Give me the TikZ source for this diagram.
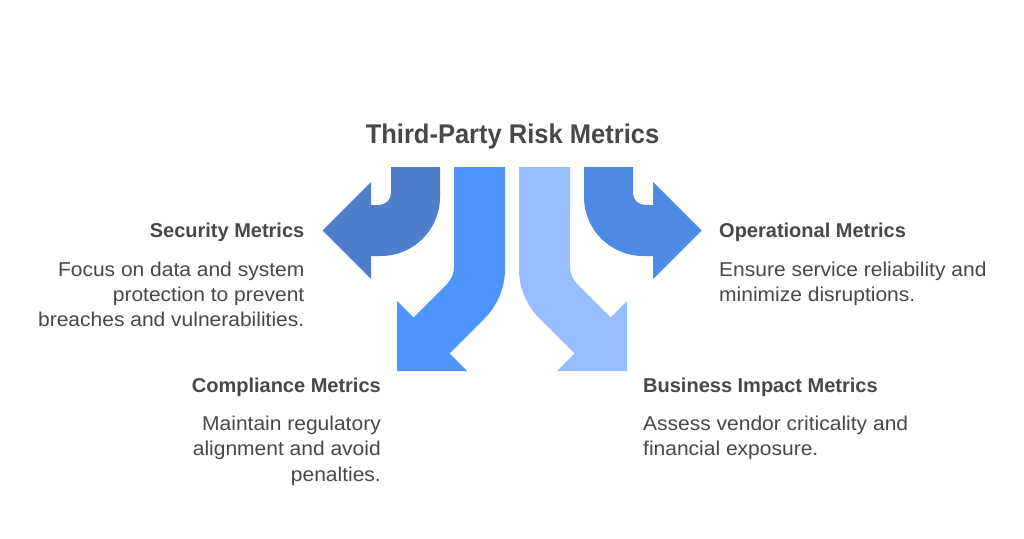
\documentclass[tikz,border=0pt]{standalone}
\usepackage{fontspec}
\setmainfont{Liberation Sans}
\newfontfamily\bodyfont[FakeStretch=1.05]{Liberation Sans}
\newfontfamily\titlefont[FakeStretch=0.945]{Liberation Sans}
\definecolor{secc}{RGB}{79,127,202}
\definecolor{operc}{RGB}{78,137,230}
\definecolor{compc}{RGB}{78,147,255}
\definecolor{busc}{RGB}{149,189,255}
\definecolor{txt}{RGB}{72,72,72}
\tikzset{
  titletext/.style={font=\titlefont\bfseries\fontsize{27}{34}\selectfont, text=txt, inner sep=0pt},
  headtext/.style={font=\bfseries\fontsize{20}{25}\selectfont, text=txt, inner sep=0pt},
  bodytext/.style={font=\bodyfont\fontsize{20}{25.3}\selectfont, text=txt, inner sep=0pt},
}
\begin{document}
\begin{tikzpicture}[x=1pt,y=-1pt]
\fill[white] (0,0) rectangle (1024,538);
\useasboundingbox (0,0) rectangle (1024,538);

% left arrows
\fill[secc] (440,167) -- (440,197) arc[start angle=0,end angle=90,radius=59]
  -- (371,256) -- (371,279) -- (322.5,230.5) -- (371,182) -- (371,205) -- (379,205)
  arc[start angle=90,end angle=0,radius=12] -- (391,167) -- cycle;
\fill[compc] (454,167) -- (505,167) -- (505,269) arc[start angle=0,end angle=45,radius=70]
  -- (449.5,353.5) -- (467,371) -- (397,371) -- (397,301) -- (413.5,317.5) -- (446.7,284.3)
  arc[start angle=45,end angle=0,radius=25] -- cycle;

% right arrows (mirror)
\begin{scope}[shift={(1024,0)},xscale=-1]
\fill[operc] (440,167) -- (440,197) arc[start angle=0,end angle=90,radius=59]
  -- (371,256) -- (371,279) -- (322.5,230.5) -- (371,182) -- (371,205) -- (379,205)
  arc[start angle=90,end angle=0,radius=12] -- (391,167) -- cycle;
\fill[busc] (454,167) -- (505,167) -- (505,269) arc[start angle=0,end angle=45,radius=70]
  -- (449.5,353.5) -- (467,371) -- (397,371) -- (397,301) -- (413.5,317.5) -- (446.7,284.3)
  arc[start angle=45,end angle=0,radius=25] -- cycle;
\end{scope}

\node[titletext, anchor=base] (title) at (512.5,143) {Third-Party Risk Metrics};

\node[headtext, anchor=base east] (sech) at (304.5,237.5) {Security Metrics};
\node[bodytext, anchor=base east, align=right] (secb) at (304.5,326.6) {Focus on data and system\\protection to prevent\\breaches and vulnerabilities.};

\node[headtext, anchor=base east] (comph) at (381,392) {Compliance Metrics};
\node[bodytext, anchor=base east, align=right] (compb) at (381,481) {Maintain regulatory\\alignment and avoid\\penalties.};

\node[headtext, anchor=base west] (operh) at (719,237.5) {Operational Metrics};
\node[bodytext, anchor=base west, align=left] (operb) at (719,301.8) {Ensure service reliability and\\minimize disruptions.};

\node[headtext, anchor=base west] (bush) at (643,392) {Business Impact Metrics};
\node[bodytext, anchor=base west, align=left] (busb) at (643,455.3) {Assess vendor criticality and\\financial exposure.};
\end{tikzpicture}
\end{document}
